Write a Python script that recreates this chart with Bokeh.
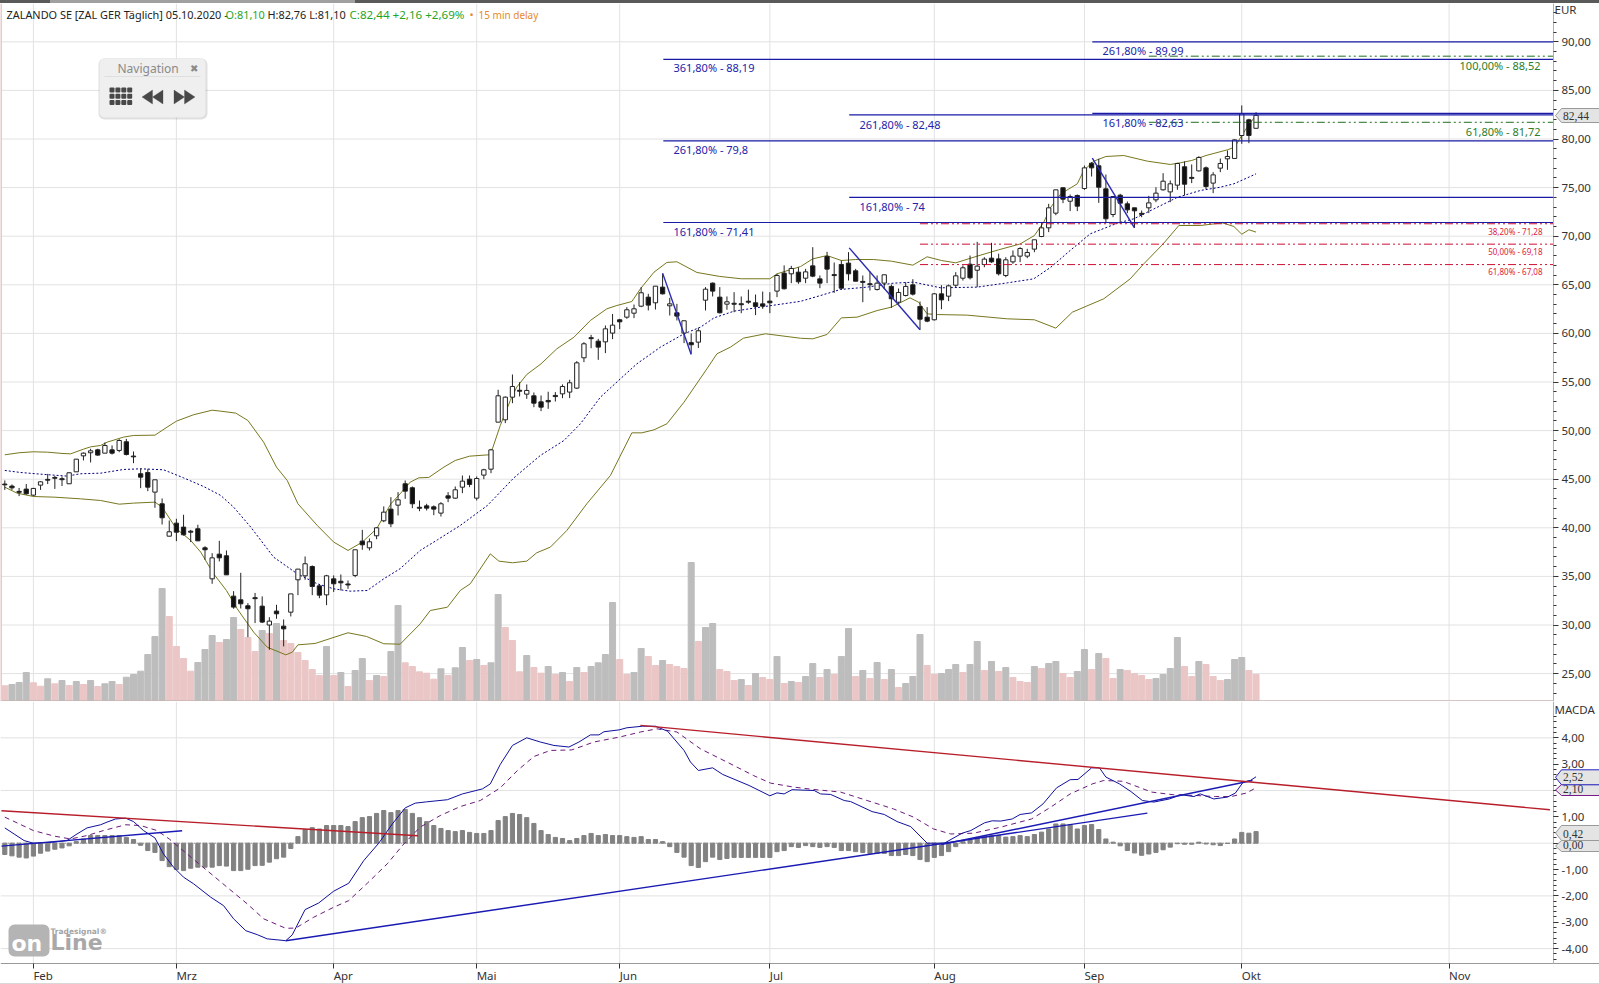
from bokeh.plotting import figure
from bokeh.layouts import column
from bokeh.models import (FixedTicker, Label, BoxAnnotation, PolyAnnotation, Span, Range1d,
                          LinearScale, Spacer)
from bokeh.embed import file_html
from bokeh.resources import INLINE

# ---------- data ----------
opens = [44.5,44.29,43.75,43.98,43.36,44.39,44.98,45.18,45.05,44.53,45.76,47.4,47.72,48.02,47.68,48.02,47.96,48.85,47.38,45.56,
 45.69,43.67,42.47,39.14,40.48,40.07,39.65,39.9,37.94,34.75,37.29,37.12,32.97,32.59,31.98,32.81,31.94,30.0,31.43,29.88,
 31.32,34.65,35.06,36.02,34.03,33.1,34.75,34.5,34.22,35.1,38.63,37.94,39.18,40.72,41.92,42.33,
 44.53,44.12,42.11,42.26,42.16,41.51,43.29,43.05,44.18,45.0,43.05,45.42,46.03,50.87,51.11,53.44,54.15,53.75,53.58,52.96,53.1,53.62,53.78,53.96,
 54.37,57.49,59.56,59.2,59.13,60.03,61.4,61.67,62.08,62.8,63.73,63.15,64.76,62.84,62.12,60.03,59.05,59.1,63.42,65.17,
 63.73,63.01,63.1,63.05,63.31,63.15,63.04,63.32,64.35,66.2,66.13,66.3,65.68,66.95,65.61,67.91,66.05,67.09,67.23,66.44,
 65.35,65.11,64.52,65.17,64.83,63.21,63.9,65.0,62.77,61.67,61.4,64.07,63.83,64.96,65.68,67.12,66.5,67.09,67.74,67.67,
 65.96,67.36,67.95,67.95,68.67,69.97,70.86,72.37,74.98,73.6,74.19,74.91,77.51,77.24,74.87,72.23,74.22,73.33,72.92,72.35,
 72.92,73.74,74.77,74.56,75.25,77.14,76.05,76.72,77.03,75.46,77.0,77.96,78.0,80.36,81.97,81.1]
highs = [44.87,44.46,44.1,44.5,44.1,44.8,45.55,45.35,45.28,45.7,47.06,47.75,48.13,48.13,48.78,48.47,49.12,49.15,47.85,46.1,
 46.07,44.94,43.02,40.75,40.93,41.34,39.79,40.31,38.11,37.39,38.66,37.67,33.48,35.37,32.25,33.3,32.94,30.8,32.08,30.57,
 33.2,35.75,37.05,36.13,34.17,35.16,35.1,35.2,34.58,37.74,39.79,38.9,40.07,42.2,43.15,43.67,
 44.87,44.25,42.81,42.47,42.3,42.64,43.67,44.25,45.38,45.38,45.28,46.07,48.12,54.2,53.51,55.77,54.98,54.75,53.92,53.61,54.0,53.96,54.75,55.23,
 57.15,59.1,59.85,59.44,60.81,62.0,61.5,62.7,62.97,64.76,64.07,64.86,66.1,63.66,63.04,61.3,60.0,60.58,64.76,65.24,
 64.76,63.8,64.24,63.8,64.5,64.0,64.3,64.24,66.13,67.0,66.95,66.8,66.64,68.87,65.96,68.39,67.29,67.5,68.36,66.64,
 65.96,66.37,65.96,66.03,65.03,64.62,65.27,65.58,63.28,62.7,64.14,64.96,65.03,66.3,66.99,68.01,69.42,67.84,69.32,68.2,
 67.84,68.53,68.87,68.7,69.63,71.44,73.33,74.77,75.04,74.29,74.29,77.27,77.62,77.96,76.35,74.08,74.36,73.57,72.92,72.64,
 74.15,75.04,76.48,75.73,77.55,77.69,77.38,78.23,77.17,76.59,77.99,78.82,79.98,83.45,82.08,82.76]
lows = [43.9,43.9,43.26,43.4,43.26,43.9,44.5,44.0,44.3,44.53,45.76,46.93,46.72,47.4,47.68,47.54,47.78,47.44,46.65,44.08,
 43.77,42.06,40.34,39.1,38.63,39.2,38.53,38.63,36.71,34.24,36.54,35.16,31.67,31.7,28.75,30.2,30.2,27.45,30.64,27.8,
 30.88,33.07,34.65,33.07,32.76,32.04,33.4,33.55,33.72,34.92,37.74,37.67,38.83,40.58,40.07,41.27,
 42.98,42.02,41.71,41.78,41.3,41.16,42.64,42.98,43.56,44.18,42.81,45.0,45.62,50.87,50.77,52.82,53.51,53.27,52.41,52.0,52.24,52.99,53.34,53.34,
 54.3,57.04,58.48,57.28,57.97,59.41,60.44,61.5,61.57,62.7,62.36,62.46,64.0,61.84,61.33,59.0,57.9,58.5,62.36,63.8,
 62.05,62.43,62.18,62.08,63.04,61.88,62.53,62.08,63.73,64.52,65.17,65.1,65.17,65.78,64.65,65.17,64.17,64.48,65.44,65.37,
 63.21,64.41,64.41,64.55,62.63,63.04,63.8,63.9,60.37,61.15,61.33,62.49,63.32,64.76,65.44,65.55,64.76,66.81,67.26,65.96,
 65.78,67.16,67.33,67.74,68.36,69.9,70.42,72.16,73.4,72.58,72.58,74.77,76.14,73.43,71.34,71.96,71.27,72.37,70.86,71.96,
 72.37,73.5,74.7,73.5,74.77,74.19,75.46,76.66,74.84,74.43,76.59,76.83,77.96,79.5,79.57,81.1]
closes = [44.42,44.11,43.65,43.5,44.05,44.73,44.9,45.1,44.95,45.66,47.06,47.68,47.92,47.48,48.47,47.68,48.98,47.54,47.3,45.21,
 44.18,44.94,41.03,39.59,39.55,39.28,39.55,38.66,37.74,36.91,36.91,35.16,31.84,32.18,31.67,32.71,30.3,30.4,31.15,29.6,
 33.2,35.75,36.3,33.96,33.07,35.06,34.24,34.34,34.12,37.74,38.25,38.56,40.0,41.61,40.41,42.88,
 43.77,42.47,42.01,42.02,41.92,42.47,43.05,43.91,44.8,44.46,45.07,45.97,48.02,53.58,53.44,54.54,54.05,54.13,52.82,52.41,52.96,53.5,54.54,54.92,
 56.97,58.93,59.46,58.59,60.47,60.85,61.19,62.43,62.53,64.18,62.91,64.86,64.07,63.04,61.78,61.3,58.83,60.27,64.55,64.35,
 62.12,63.25,63.0,62.95,63.21,62.77,62.8,63.15,65.96,64.59,66.68,65.31,66.33,65.89,65.17,66.61,65.95,64.65,66.13,65.37,
 65.25,65.01,65.17,66.03,63.56,64.21,64.83,64.04,61.46,61.26,64.07,63.45,64.89,65.92,66.75,65.72,66.92,67.64,67.36,66.13,
 67.57,67.95,68.73,68.32,69.63,70.86,72.92,74.77,73.81,74.08,73.09,77.03,77.03,75.04,71.79,74.08,73.4,72.71,72.61,72.25,
 73.43,74.43,75.66,75.39,77.48,75.35,75.95,78.1,75.11,76.31,77.48,78.2,79.91,82.59,80.36,82.44]

volume = [15.7,17,19,29,18.7,15.3,22.7,17.7,21,16,20,17,21,15,17.7,20,17,24.3,27,30.3,47,65,113,85,55,43,30.3,39,52,66,59,62,84,72,64,50,71,68,78,61,58,49,41,32,26,55,26,29,15,31,43,21,26,25,50,96,
 38.7,35,29.7,28.3,22.3,32.7,26,33.7,54,41,42,36,38.7,107,74,61,29.7,46,34,28.3,35,27,29,20,34,29,35,38.7,47,99,42,27,29,53,45,36,41,37,35,33,139,60,74,78,32,30,21,22,16,28,24,22,45,18,20,19,
 25,38,24,32,27,45,73,25,31,23,39,22,32,14,18,25,67,36,27,28,32,37,29,37,60,31,40,30,34,24,20,19,35,33,38,40,28,24,30,52,32,48,43,23,32,31,28,26,22,23,27,33,64,35,25,40,37,25,21,22,42,44,31,27]
volume_up = [0,1,1,1,0,0,1,0,1,0,1,0,1,0,1,1,0,1,1,1,1,1,1,0,0,0,0,1,1,1,0,1,1,0,0,0,1,0,1,0,0,0,0,0,0,1,0,1,0,1,1,0,1,0,1,1,
 0,0,0,0,0,1,0,1,1,0,1,0,1,1,0,0,0,1,0,0,1,0,1,0,1,0,1,1,1,1,0,0,1,1,0,0,1,0,0,0,1,0,1,1,0,0,0,1,0,1,0,0,1,0,1,0,
 1,1,0,1,0,1,1,0,1,0,1,0,1,0,1,1,1,0,0,1,1,1,0,1,1,0,1,0,1,0,0,0,1,0,1,1,0,0,1,1,0,1,0,0,1,0,0,0,0,1,1,1,1,0,0,1,0,0,0,1,1,1,0,0]

upper_x = [0,2,4,6,8,9.2,11,12,13.4,14.3,16.6,18,21,22.7,24,26.4,29,30.2,32.3,34,36.2,38,39.5,41,43.7,46,48,50,52,54,55.3,
 56.7,57.9,59.3,61.4,63,65,67.7,68.2,69.3,70.7,71.6,73,75,77.2,79.6,81.9,84.2,85.6,87.7,88.9,90.8,92.6,94,96.8,100,103,107,108,111.3,
 113,115,117,119,121.5,124,127,129,131,133,136,139,142,144,145.3,146.3,147.7,150,150.9,152.3,154,156.5,159.8,163,164.4,166,168,171,172,173,174,175]
upper_y = [47.51,47.72,47.82,47.78,47.65,47.61,48.09,48.33,48.47,48.81,49.33,49.5,49.53,50.36,50.97,51.63,52.1,52.0,51.8,51.04,48.81,46.24,44.87,42.47,40.24,38.53,37.67,38.53,39.9,42.47,43.5,
 44.7,45.14,45.18,46.24,46.93,47.37,47.51,48.13,50.53,53.1,54.47,55.77,56.87,58.41,59.61,61.33,62.53,62.87,63.28,64.59,66.3,67.3,67.37,66.27,65.86,65.62,65.62,66.13,66.88,
 67.67,68.01,67.5,67.6,67.6,67.43,67.02,67.88,67.5,67.26,67.95,68.6,69.2,70.07,71.44,72.99,74.36,75.39,76.76,77.72,78.2,78.3,77.72,77.38,77.55,77.79,78.3,78.89,79.16,80.36,81.49,82.42]
lower_x = [0,1.7,4,7,10.6,13.4,16,18,21,22,24,26,27.4,29.2,31,32.5,34.8,36.7,39.3,40.2,41,43.4,48,50.6,53,55.3,
 58.1,59.5,61.9,63.7,65.1,67.9,69.1,71,73,74.4,76.3,78.6,81.4,84.7,87.7,89.1,90.8,92.6,95,98.2,99.6,101.5,103.3,106.4,111.3,
 113,115,117,119.2,122,124,126.6,127.8,129,130.4,134.6,140.2,144,147,149.3,153.7,157.4,159.3,162,164.2,167.2,170.3,171.9,173,174,175]
lower_y = [44.18,43.57,43.22,43.15,42.98,42.81,42.43,42.54,42.64,42.13,39.9,38.7,37.5,35.27,33.55,31.67,29.27,27.72,26.93,27.2,27.96,28.1,29.2,28.82,28.07,28.03,
 30.12,31.49,31.83,33.55,34.24,37.32,36.57,36.4,36.57,37.43,38.01,39.72,42.47,45.38,49.77,49.77,50.08,50.7,52.93,56.36,57.9,58.59,59.51,59.96,59.5,
 59.44,59.89,61.6,61.67,62.35,62.7,63.66,63.21,62.01,61.94,61.88,61.5,61.4,60.54,62.18,63.56,65.61,67.16,69.2,71.1,71.1,71.37,71.0,70.2,70.66,70.42]
mid_x = [0,2.2,5.5,8.7,10.6,13.4,16.6,19,22.2,25,27.8,30.2,32,34.4,37.6,40.9,43.7,46,48.3,50.7,53,55.3,
 58.1,60.5,63.7,67.5,71.2,74.9,78.2,80.5,83.3,86.1,88.4,91.7,95,97.3,99.2,102,106.6,111.3,
 114.1,116.9,120.6,124.3,127.1,130.9,136,140.2,143.9,146.3,149,151.8,155.6,157.9,160.7,164,167.2,170,171.9,174.2,175]
mid_y = [45.9,45.69,45.49,45.32,45.56,45.62,46.0,46.07,45.97,45.14,44.25,43.33,42.13,40.07,36.98,35.27,34.24,33.72,33.48,33.55,34.75,35.8,
 37.67,38.76,40.24,42.3,45.14,47.44,48.98,50.7,53.44,55.33,56.87,58.59,59.96,60.64,61.6,62.29,62.8,63.3,
 63.9,64.52,64.76,65.17,65.27,64.69,64.76,65.2,65.61,66.81,68.53,70.24,71.34,71.79,72.8,74.0,74.7,75.04,75.39,76.14,76.42]

macd_x = [0,1.3,2.7,4,6.9,8.7,10.1,11.5,13.4,14.3,15.5,16.9,18,19.4,21,22.2,23.6,25,26.4,28.8,30.6,32,33.7,35.3,36.7,39.3,40.2,42,43.9,46,48.1,50.2,52.3,54.2,56,57.4,59,61.9,64,66.8,67.9,69.3,
 71,73,74.9,76.8,78.9,80.3,81.9,83.1,83.8,85.9,87,89.2,91,92.7,95,95.9,97,99,100.4,104.1,107,108,109,110.1,113.2,114.1,115.5,117.4,118.3,121.3,123,124.8,126.7,129,131.4,133.9,135.1,137,138.1,
 139.3,140.9,142,143.6,145.2,147.1,149,150.1,152,153.1,154,155.9,157.5,159.1,160.7,162.9,164.5,166.3,167.2,169.1,171,172.1,173.2,174.2,175]
macd_y = [.58,.35,.10,0,.04,.10,.35,.58,.70,.80,.92,.95,.82,.48,.20,-.41,-.91,-1.29,-1.54,-2.05,-2.37,-2.87,-3.32,-3.47,-3.63,-3.70,-3.48,-2.52,-2.27,-1.82,-1.52,-.66,0,.73,1.34,1.52,1.57,1.65,1.87,2.06,2.25,2.99,
 3.71,4.0,3.84,3.71,3.65,3.84,4.11,4.11,4.23,4.30,4.38,4.44,4.44,4.25,3.52,3.08,2.76,2.86,2.61,2.19,1.80,1.91,1.87,2.03,2.0,1.87,1.85,1.62,1.58,1.20,1.09,.82,.63,0,0,.38,.48,.77,.85,
 .84,.92,1.09,1.15,1.49,2.10,2.41,2.42,2.86,2.86,2.51,2.25,1.96,1.62,1.56,1.68,1.84,1.77,1.87,1.68,1.75,1.90,2.32,2.38,2.52]
signal_x = [0,4,6.9,9.2,11.5,13.8,16.9,19,21.3,23,25.5,28.3,31,33.9,36.2,39.3,40.7,43.2,46,48.1,50.7,53.5,55.8,58.1,60.9,63.7,66.5,69.3,
 71.7,74,76.3,79.3,82.4,86,88.9,91.2,94,97.3,101,104.7,107.1,110.3,113.1,116.9,120.6,124.3,127.1,129.9,132.3,135.5,139.3,
 143.6,146.3,149,152.1,153.7,156.4,160.4,163.4,166.6,169.3,171.5,173.6,175]
signal_y = [.99,.48,.27,.16,.29,.48,.70,.67,.48,.16,-.41,-1.04,-1.65,-2.30,-2.87,-3.23,-3.22,-2.81,-2.43,-2.18,-1.52,-.78,-.03,.61,1.05,1.39,1.62,2.1,
 2.76,3.29,3.52,3.54,3.84,4.03,4.22,4.34,4.22,3.58,3.08,2.57,2.28,2.13,2.04,1.94,1.62,1.30,.99,.54,.35,.38,.61,
 .92,1.37,1.87,2.25,2.38,2.35,1.94,1.84,1.81,1.77,1.77,1.9,2.10]
histogram = [-.43,-.48,-.53,-.56,-.49,-.38,-.30,-.23,-.18,-.10,.06,.16,.29,.29,.29,.29,.29,.22,.14,-.08,-.28,-.35,-.66,-.89,-1.0,-1.04,-.95,-.91,-.91,-.91,-.85,-.87,-1.04,-1.04,-.99,-.85,-.84,-.72,-.59,-.53,-.20,.25,.52,.59,.54,.67,.67,.67,.63,.82,.97,1.01,1.13,1.24,1.16,1.24,1.28,1.13,.97,.82,.67,.56,.48,.44,.48,.41,.37,.37,.48,.86,
 1.01,1.13,1.09,.97,.75,.48,.33,.22,.18,.10,.18,.29,.37,.29,.33,.29,.29,.25,.22,.25,.14,.14,.06,-.13,-.35,-.53,-.85,-.92,-.70,-.53,-.62,-.58,-.54,-.54,-.54,-.54,-.54,-.54,-.32,-.28,-.13,-.16,-.09,-.13,-.16,-.13,-.16,-.28,-.28,-.32,-.35,-.39,-.39,-.39,-.47,-.47,-.43,-.47,-.62,-.70,-.54,-.47,-.32,-.13,.06,.14,.22,.27,.29,.29,
 .23,.25,.29,.25,.33,.42,.54,.73,.73,.70,.54,.67,.71,.52,.16,.04,-.10,-.28,-.37,-.46,-.41,-.35,-.25,-.15,-.02,-.04,-.04,.04,-.03,-.06,-.09,-.01,.16,.41,.38,.44]

month_bars = [4,24,46,66,86,107,130,151,173,202]
month_names = ["Feb","Mrz","Apr","Mai","Jun","Jul","Aug","Sep","Okt","Nov"]
price_ticks = [25,30,35,40,45,50,55,60,65,70,75,80,85,90]
macd_ticks = [-4,-3,-2,-1,0,1,2,3,4]
macd_grid = [-4,-2,0,2,4]

fib_blue_start = [152.1,92.1,118.1,152.1,92.1,118.1,92.1]
fib_blue_level = [89.99,88.19,82.48,82.63,79.8,74.0,71.41]
fib_green_start = [160,160]
fib_green_level = [88.52,81.72]
fib_red_start = [128,128,128]
fib_red_level = [71.28,69.18,67.08]
price_trend_x = [[92,96],[118.1,128],[152.1,158]]
price_trend_y = [[66.2,57.83],[68.8,60.37],[78.03,70.86]]
macd_blue_x = [[39.3,159.8],[131,174.5],[-0.47,24.8]]
macd_blue_y = [[-3.70,1.14],[-0.05,2.38],[-0.11,0.47]]
macd_red_x = [[-0.47,57.8],[88.9,216.1]]
macd_red_y = [[1.23,0.28],[4.47,1.27]]

# ---------- scales: picture pixel <-> data ----------
def bx(px): return (px-4.3)/7.15
def by(py): return 90-(py-41.3)/9.72
def my(py): return (842.7-py)/26.35

FONT = "Noto Sans"
TXT = "#333333"
GRID = "#e2e2e2"
X_START, X_FULL, X_EDGE = bx(0), bx(1599), bx(1553)
bars = list(range(len(closes)))
P_LOW, P_HIGH = by(701), by(3)
M_AXIS, M_LOW, M_HIGH = my(963.4), my(983), my(701)
DASH_DOT = [8, 3, 2, 3, 2, 3]

def base(fig, edge, y_ticks, y_bottom, y_top):
    fig.outline_line_color = None
    fig.background_fill_color = "white"
    fig.border_fill_color = "white"
    fig.grid.visible = False
    # the grid stops at the scale column and at the month axis
    fig.segment([X_START]*len(y_ticks), y_ticks, [edge]*len(y_ticks), y_ticks, line_color=GRID, line_width=1, level="underlay")
    fig.segment(month_bars, [y_bottom]*len(month_bars), month_bars, [y_top]*len(month_bars), line_color=GRID, line_width=1, level="underlay")
    ax = fig.yaxis[0]
    ax.fixed_location = edge
    ax.axis_line_color = "#b0b0b0"
    ax.major_tick_line_color = "#333333"
    ax.minor_tick_line_color = "#333333"
    ax.major_tick_in = 0
    ax.minor_tick_in = 0
    ax.major_tick_out = 5
    ax.minor_tick_out = 3
    ax.major_label_standoff = 3
    ax.major_label_text_font = FONT
    ax.major_label_text_font_size = "11.5px"
    ax.major_label_text_color = TXT

def txt(fig, x, y, s, color=TXT, size="11px", align="left", font=FONT, style="normal"):
    fig.add_layout(Label(x=x, y=y, text=s, text_color=color, text_font_size=size, text_align=align,
                         text_baseline="middle", text_font=font, text_font_style=style, level="overlay"))

# ---------- price pane ----------
p1 = figure(width=1599, height=698, output_backend="svg", toolbar_location=None,
            x_range=Range1d(X_START, X_FULL), y_range=Range1d(P_LOW, P_HIGH),
            x_axis_location=None, y_axis_location="right",
            min_border_left=0, min_border_right=0, min_border_top=0, min_border_bottom=0)
base(p1, X_EDGE, price_ticks, P_LOW, P_HIGH)
p1.yaxis[0].ticker = FixedTicker(ticks=price_ticks, minor_ticks=list(range(23, 94)))
p1.yaxis[0].major_label_overrides = {t: f"{t},00" for t in price_ticks}
p1.extra_y_ranges = {"vol": Range1d(0, 698)}
p1.extra_y_scales = {"vol": LinearScale()}

vol_col = ["#bdbdbd" if u else "#eac6c6" for u in volume_up]
p1.vbar(x=bars, top=volume, bottom=0, width=0.84, color=vol_col, y_range_name="vol")

p1.line(upper_x, upper_y, line_color="#77771f", line_width=1)
p1.line(lower_x, lower_y, line_color="#77771f", line_width=1)
p1.line(mid_x, mid_y, line_color="#000080", line_width=1, line_dash=[2, 2])

p1.segment(bars, lows, bars, highs, line_color="#222222", line_width=1)
body_top = [max(o, c) for o, c in zip(opens, closes)]
body_bot = [min(o, c) for o, c in zip(opens, closes)]
body_col = ["#111111" if c < o else "#ffffff" for o, c in zip(opens, closes)]
p1.vbar(x=bars, top=body_top, bottom=body_bot, width=0.6, fill_color=body_col, line_color="#222222", line_width=1)

p1.segment(fib_blue_start, fib_blue_level, [X_EDGE]*len(fib_blue_level), fib_blue_level, line_color="#1a1aa6", line_width=1.2)
for s_, l_ in zip(fib_green_start, fib_green_level):
    p1.line([s_, X_EDGE], [l_, l_], line_color="#1e6e1e", line_width=1, line_dash=DASH_DOT)
for s_, l_ in zip(fib_red_start, fib_red_level):
    p1.line([s_, X_EDGE], [l_, l_], line_color="#cc1133", line_width=1, line_dash=DASH_DOT)
p1.multi_line(price_trend_x, price_trend_y, line_color="#2a2ab4", line_width=1.4)

p1.line([X_START, X_EDGE], [P_LOW, P_LOW], line_color="#c9b4b4", line_width=2.5)
p1.add_layout(Span(location=X_START, dimension="height", line_color="#ecc8c8", line_width=3))

FIB_BLUE = "#2222aa"
for px_, py_, s in [(673,67,"361,80% - 88,19"), (673,149,"261,80% - 79,8"), (673,231,"161,80% - 71,41"),
                    (859,124,"261,80% - 82,48"), (859,206,"161,80% - 74"),
                    (1102,50,"261,80% - 89,99"), (1102,122,"161,80% - 82,63")]:
    txt(p1, bx(px_), by(py_), s, FIB_BLUE)
txt(p1, bx(1540), by(65), "100,00% - 88,52", "#2a7d2a", align="right")
txt(p1, bx(1540), by(131), "61,80% - 81,72", "#2a7d2a", align="right")
for py_, s in [(231,"38,20% - 71,28"), (251,"50,00% - 69,18"), (271,"61,80% - 67,08")]:
    txt(p1, bx(1542), by(py_), s, "#e0203a", size="8px", align="right")

# header
HY = by(14)
txt(p1, bx(6), HY, "ZALANDO SE [ZAL GER Täglich] 05.10.2020 -", "#222222", size="10.9px")
txt(p1, bx(225), HY, "O:81,10", "#1fa51f", size="10.9px")
txt(p1, bx(267), HY, "H:82,76 L:81,10", "#222222", size="10.9px")
txt(p1, bx(349), HY, "C:82,44 +2,16 +2,69%", "#1fa51f", size="11.6px")
txt(p1, bx(469), HY, "•", "#e8892a")
txt(p1, bx(478), HY, "15 min delay", "#e8892a", size="10px")
txt(p1, bx(1554), by(9), "EUR", TXT, size="11.5px")

# navigation panel
def box(fig, yf, l, r, t, b, fill, line=None, alpha=1.0, radius=0):
    fig.add_layout(BoxAnnotation(left=bx(l), right=bx(r), top=yf(t), bottom=yf(b), fill_color=fill, fill_alpha=alpha,
                                 line_color=line, border_radius=radius, level="overlay"))
box(p1, by, 98, 207, 58, 119, "#000000", alpha=0.12, radius=6)
box(p1, by, 99, 205, 58, 117, "#efefef", "#e2e2e2", radius=5)
box(p1, by, 104, 200, 76, 76.6, "#d0d0d0")
txt(p1, bx(117), by(67.5), "Navigation", "#8a8a8a", size="12px")
txt(p1, bx(189.5), by(68), "✖", "#8a8a8a", size="10px", font="DejaVu Sans")
for col in range(4):
    for row in range(3):
        box(p1, by, 109+col*5.9, 114+col*5.9, 87+row*6.3, 92+row*6.3, "#484848", radius=1)
def tri(fig, yf, tip, bas, top, bot, mid, color="#484848"):
    fig.add_layout(PolyAnnotation(xs=[bx(tip), bx(bas), bx(bas)], ys=[yf(mid), yf(top), yf(bot)],
                                  fill_color=color, fill_alpha=1, line_color=color, level="overlay"))
tri(p1, by, 141.5, 152, 89.5, 103.5, 96.5); tri(p1, by, 152, 162.5, 89.5, 103.5, 96.5)
tri(p1, by, 184, 173.5, 89.5, 103.5, 96.5); tri(p1, by, 194.5, 184, 89.5, 103.5, 96.5)

def tag(fig, yf, cy, h, s, edge, text_y=None):
    t, b = cy-h/2, cy+h/2
    fig.patch([bx(1555), bx(1561), bx(1599), bx(1599), bx(1561)], [yf(cy), yf(t), yf(t), yf(b), yf(b)],
              fill_color="#e4e4e4", fill_alpha=1, line_color=edge, line_width=1, level="overlay")
    fig.text([bx(1562.5)], [yf(text_y if text_y else cy)], text=[s], text_color=TXT, text_font_size="11.5px",
             text_font=FONT, text_baseline="middle", text_align="left", level="overlay")
tag(p1, by, 115, 14, "82,44", "#9a9a9a")

# ---------- MACD pane ----------
p2 = figure(width=1599, height=282, output_backend="svg", toolbar_location=None,
            x_range=p1.x_range, y_range=Range1d(M_LOW, M_HIGH), y_axis_location="right",
            min_border_left=0, min_border_right=0, min_border_top=0, min_border_bottom=0)
base(p2, X_EDGE, macd_grid, M_AXIS, M_HIGH)
p2.yaxis[0].bounds = (M_AXIS, M_HIGH)
p2.yaxis[0].ticker = FixedTicker(ticks=macd_ticks, minor_ticks=[round(-4.4+0.2*k, 1) for k in range(47)])
p2.yaxis[0].major_label_overrides = {t: ("" if t in (0, 2) else f"{t},00") for t in macd_ticks}
xa = p2.xaxis[0]
xa.fixed_location = M_AXIS
xa.ticker = FixedTicker(ticks=month_bars)
xa.major_label_overrides = dict(zip(month_bars, month_names))
xa.axis_line_color = "#9a9a9a"
xa.major_tick_line_color = "#333333"
xa.minor_tick_line_color = None
xa.major_tick_in = 0
xa.major_tick_out = 5
xa.major_label_standoff = 7
xa.major_label_orientation = -0.0001
xa.major_label_text_font = FONT
xa.major_label_text_font_size = "11.5px"
xa.major_label_text_color = TXT

p2.line(bars, [0]*len(bars), line_color="#808080", line_width=1, line_dash=[1, 2])
p2.vbar(x=bars, top=histogram, bottom=0, width=0.58, color="#828282")
p2.line(signal_x, signal_y, line_color="#6a1a7a", line_width=1, line_dash=[5, 4])
p2.line(macd_x, macd_y, line_color="#10109c", line_width=1)
p2.multi_line(macd_blue_x, macd_blue_y, line_color="#1a1ab4", line_width=1.4)
p2.multi_line(macd_red_x, macd_red_y, line_color="#b81e2a", line_width=1.4)

txt(p2, bx(1554), my(709), "MACDA", TXT, size="11.5px")
tag(p2, my, 845.5, 11, "0,00", "#9a9a9a", text_y=844)
tag(p2, my, 832.5, 15, "0,42", "#9a9a9a", text_y=833.3)
tag(p2, my, 789.5, 11, "2,10", "#7a1a8a", text_y=788.7)
tag(p2, my, 776.8, 15, "2,52", "#2222c0")

# logo
box(p2, my, 8, 49, 924, 956, "#b4b4b4", radius=6)
txt(p2, bx(11), my(943), "on", "#ffffff", size="22px", font="DejaVu Sans", style="bold")
txt(p2, bx(50), my(942), "Line", "#a8a8a8", size="22px", font="DejaVu Sans", style="bold")
txt(p2, bx(50), my(931), "Tradesignal®", "#a4a4a4", size="7.5px", font="DejaVu Sans", style="bold")

top_band = Spacer(width=1599, height=3, styles={"background": "linear-gradient(to right,#5a5a5a 0,#5a5a5a 50px,#a0a0a0 50px,#a0a0a0 355px,#5a5a5a 355px)"})
bottom_band = Spacer(width=1599, height=1, styles={"background": "#d8d8d8"})
page = column(top_band, p1, p2, bottom_band, spacing=0, margin=(0, 0, 0, 0))

open("out.html", "w").write(file_html(page, INLINE))
